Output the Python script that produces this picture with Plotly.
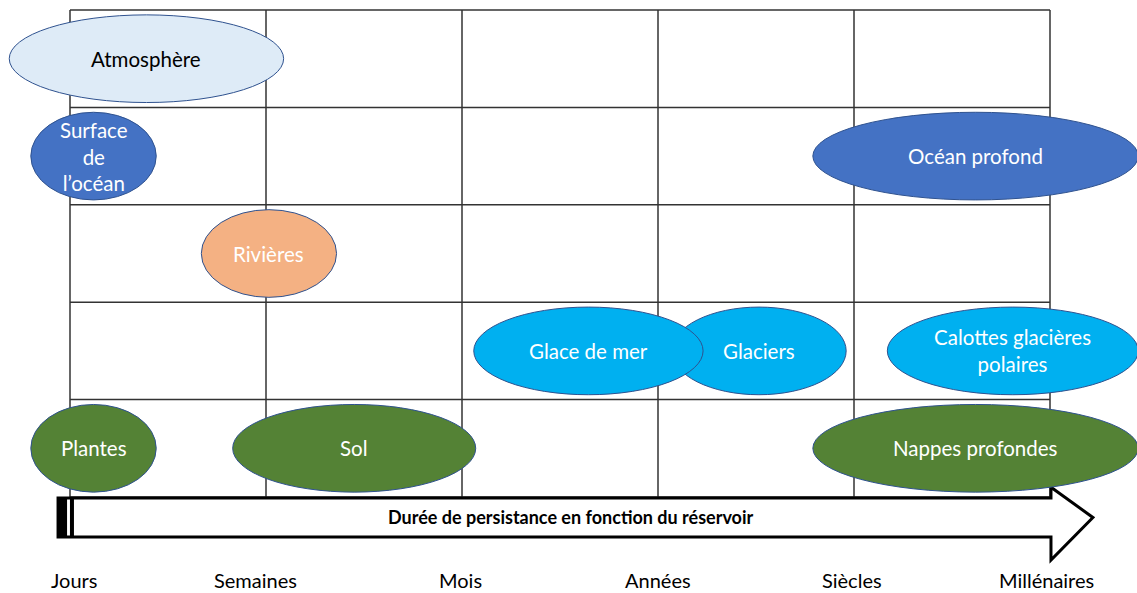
import plotly.graph_objects as go

# time scale of the grid (one column per order of magnitude)
scale_labels = ["Jours", "Semaines", "Mois", "Années", "Siècles", "Millénaires"]
scale_pos = [0, 1, 2, 3, 4, 5]
row_pos = [0, 1, 2, 3, 4, 5]

# reservoirs: label, grid row, persistence span on the time scale
res_names = ["Atmosphère", "Surface<br>de<br>l’océan", "Océan profond", "Rivières",
             "Glaciers", "Glace de mer", "Calottes glacières<br>polaires",
             "Plantes", "Sol", "Nappes profondes"]
res_row = [4, 3, 3, 2, 1, 1, 1, 0, 0, 0]
res_start = [-0.31, -0.20, 3.79, 0.67, 3.07, 2.06, 4.17, -0.20, 0.83, 3.79]
res_end = [1.09, 0.44, 5.45, 1.36, 3.96, 3.23, 5.45, 0.44, 2.07, 5.45]
res_kind = ["air", "ocean", "ocean", "river", "ice", "ice", "ice", "land", "land", "land"]

axis_title = "Durée de persistance en fonction du réservoir"

FILL = {"air": "#DEEBF7", "ocean": "#4472C4", "river": "#F4B183",
        "ice": "#00B0F0", "land": "#548235"}
TEXT = {"air": "black", "ocean": "white", "river": "white",
        "ice": "white", "land": "white"}
FONT = "Lato, 'Open Sans', sans-serif"
LABEL_SHIFT = [4, -11, -2, 0, -2, -4]  # px nudges of the scale labels

W, H = 1137, 593
COL_PX, ROW_PX = 196, 97.4
X0_PX, Y0_PX = 70, 497


def main():
    fig = go.Figure()

    # grid lines
    gx, gy = [], []
    for c in scale_pos:
        gx += [c, c, None]
        gy += [row_pos[0], row_pos[-1], None]
    for r in row_pos:
        gx += [scale_pos[0], scale_pos[-1], None]
        gy += [r, r, None]
    fig.add_trace(go.Scatter(x=gx, y=gy, mode="lines",
                             line=dict(color="#333333", width=1.5),
                             hoverinfo="skip", showlegend=False))

    shapes = []
    annotations = []

    # arrow under the grid
    x0 = scale_pos[0] - 0.061
    x1 = scale_pos[-1] + 0.005
    xt = scale_pos[-1] + 0.219
    yt, yb = -0.01, -0.41
    ym = (yt + yb) / 2
    path = (f"M {x0},{yt} L {x1},{yt} L {x1},0.10 L {xt},{ym} "
            f"L {x1},-0.647 L {x1},{yb} L {x0},{yb} Z")
    shapes.append(dict(type="path", path=path, xref="x", yref="y",
                       fillcolor="white", line=dict(color="black", width=3),
                       layer="above"))
    shapes.append(dict(type="rect", xref="x", yref="y", x0=x0, x1=scale_pos[0] - 0.015,
                       y0=yb, y1=yt, fillcolor="black", line=dict(width=0), layer="above"))
    shapes.append(dict(type="line", xref="x", yref="y", x0=scale_pos[0] + 0.01,
                       x1=scale_pos[0] + 0.01, y0=yb, y1=yt,
                       line=dict(color="black", width=4), layer="above"))
    annotations.append(dict(x=2.555, y=ym, xref="x", yref="y", text=f"<b>{axis_title}</b>",
                            showarrow=False, font=dict(family=FONT, size=18, color="black")))

    # reservoirs
    for name, row, s, e, kind in zip(res_names, res_row, res_start, res_end, res_kind):
        shapes.append(dict(type="circle", xref="x", yref="y", x0=s, x1=e,
                           y0=row + 0.05, y1=row + 0.95, fillcolor=FILL[kind],
                           line=dict(color="#2F528F", width=1), layer="above"))
        annotations.append(dict(x=(s + e) / 2, y=row + 0.5, xref="x", yref="y",
                                text=name, showarrow=False,
                                font=dict(family=FONT, size=20.5, color=TEXT[kind])))

    # time scale labels
    for lab, p, dx in zip(scale_labels, scale_pos, LABEL_SHIFT):
        annotations.append(dict(x=p, y=-0.852, xref="x", yref="y", text=lab,
                                showarrow=False, xshift=dx,
                                font=dict(family=FONT, size=20, color="black")))

    fig.update_layout(width=W, height=H,
                      margin=dict(l=0, r=0, t=0, b=0),
                      paper_bgcolor="white", plot_bgcolor="white",
                      xaxis=dict(range=[-X0_PX / COL_PX, (W - X0_PX) / COL_PX],
                                 visible=False, fixedrange=True),
                      yaxis=dict(range=[-(H - Y0_PX) / ROW_PX, Y0_PX / ROW_PX],
                                 visible=False, fixedrange=True),
                      shapes=shapes, annotations=annotations, showlegend=False)

    # drop the default page margin so the figure fills the window
    fig.write_html("out.html", config={"displayModeBar": False},
                   post_script="document.body.style.margin='0';document.body.style.overflow='hidden';")


if __name__ == '__main__':
    main()
